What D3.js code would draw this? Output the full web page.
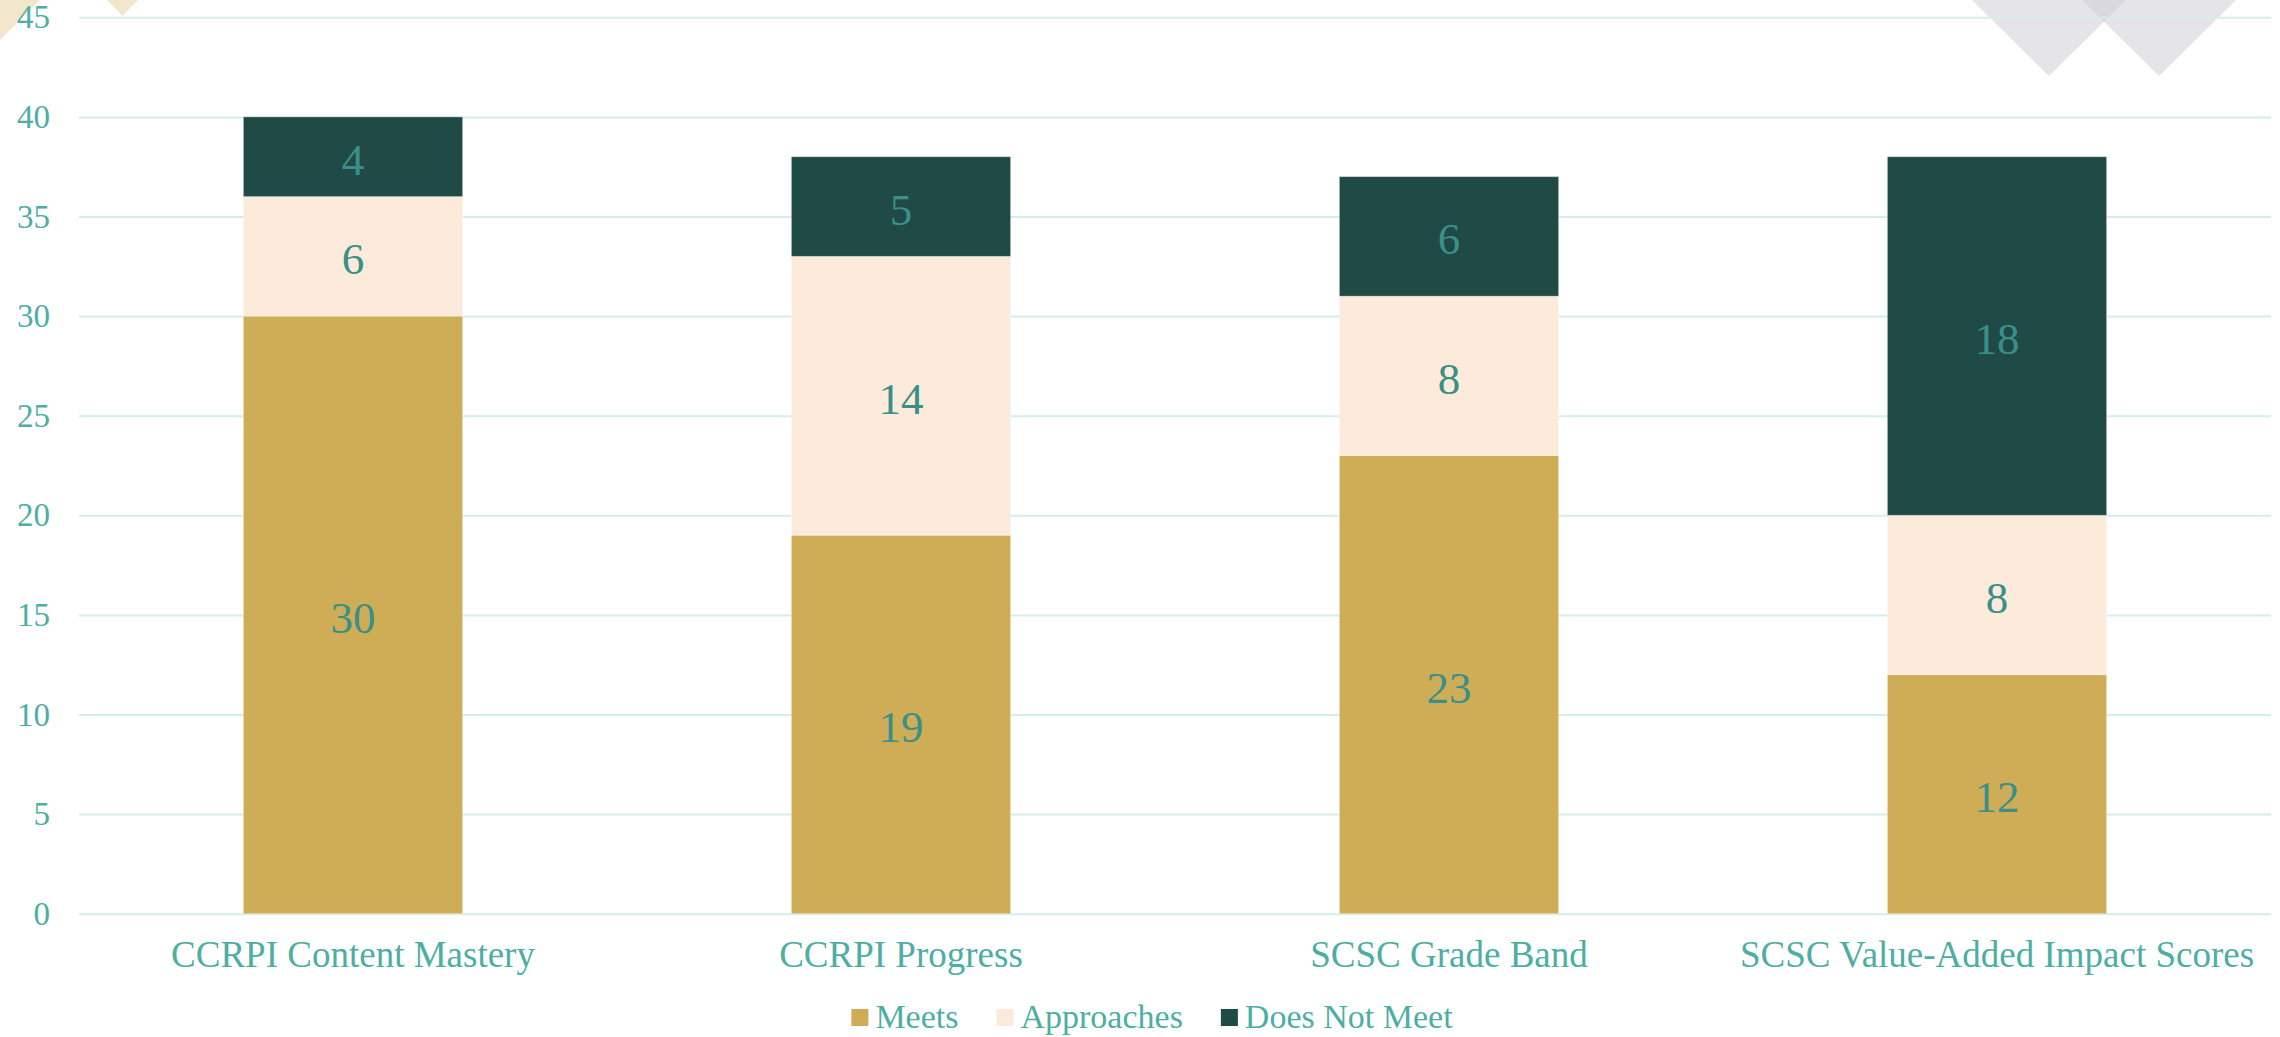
<!DOCTYPE html>
<html>
<head>
    <meta charset="utf-8">
    <title>Stacked bars</title>
    <script src="https://cdn.jsdelivr.net/npm/d3@7"></script>
    <style>
        body { margin: 0; background: #fff; }
        svg { display: block; font-family: Georgia, "Liberation Serif", serif; }
    </style>
</head>
<body>
    <div id="chart"></div>
    <script>
        // data
        const categories = ["CCRPI Content Mastery", "CCRPI Progress", "SCSC Grade Band", "SCSC Value-Added Impact Scores"];
        const meets = [30, 19, 23, 12];
        const approaches = [6, 14, 8, 8];
        const doesNotMeet = [4, 5, 6, 18];
        const seriesNames = ["Meets", "Approaches", "Does Not Meet"];
        const seriesColors = ["#cfad56", "#fcebda", "#1f4a45"];
        const yTicks = [0, 5, 10, 15, 20, 25, 30, 35, 40, 45];

        const width = 2280;
        const height = 1037;
        const plotLeft = 79, plotRight = 2271, plotTop = 17.3, plotBottom = 913.7;

        const rows = categories.map((c, i) => ({
            category: c,
            "Meets": meets[i],
            "Approaches": approaches[i],
            "Does Not Meet": doesNotMeet[i]
        }));
        const stacked = d3.stack().keys(seriesNames)(rows);

        const x = d3.scaleBand()
            .domain(categories)
            .range([plotLeft, plotRight])
            .paddingInner(0.6)
            .paddingOuter(0.3);

        const y = d3.scaleLinear()
            .domain([0, 45])
            .range([plotBottom, plotTop]);

        const color = d3.scaleOrdinal().domain(seriesNames).range(seriesColors);

        const svg = d3.select("#chart")
            .append("svg")
            .attr("width", width)
            .attr("height", height);

        // decorative corner triangles
        const tri = (x0, w, h) => `M${x0},0L${x0 + w},0L${x0 + w / 2},${h}Z`;
        svg.append("path").attr("d", "M0,0L40,0L0,40Z").attr("fill", "#f2e7cd");
        svg.append("path").attr("d", tri(107, 31, 16)).attr("fill", "#f2e7cd");
        svg.append("path").attr("d", tri(1972, 154, 76)).attr("fill", "rgb(203,203,211)").attr("opacity", 0.5);
        svg.append("path").attr("d", tri(2082, 154, 76)).attr("fill", "rgb(203,203,211)").attr("opacity", 0.5);

        // grid lines + y labels
        const yAxis = d3.axisLeft(y)
            .tickValues(yTicks)
            .tickSize(-(plotRight - plotLeft))
            .tickPadding(29);

        const gy = svg.append("g")
            .attr("transform", "translate(" + plotLeft + ",0)")
            .call(yAxis);
        gy.select(".domain").remove();
        gy.selectAll(".tick line")
            .attr("stroke", "#d6eeeb")
            .attr("stroke-width", 2);
        gy.selectAll(".tick text")
            .attr("fill", "#4daea2")
            .attr("font-size", "33px")
            .attr("font-family", "Georgia, 'Liberation Serif', serif");

        // bars
        const layers = svg.selectAll(".layer")
            .data(stacked)
            .enter()
            .append("g")
            .attr("class", "layer")
            .attr("fill", d => color(d.key));

        layers.selectAll("rect")
            .data(d => d)
            .enter()
            .append("rect")
            .attr("x", d => x(d.data.category))
            .attr("y", d => y(d[1]))
            .attr("width", x.bandwidth())
            .attr("height", d => y(d[0]) - y(d[1]))
            .attr("stroke", "rgba(255,255,255,0.3)")
            .attr("stroke-width", 1);

        // value labels
        layers.selectAll("text")
            .data(d => d)
            .enter()
            .append("text")
            .attr("x", d => x(d.data.category) + x.bandwidth() / 2)
            .attr("y", d => (y(d[0]) + y(d[1])) / 2 + 3)
            .attr("text-anchor", "middle")
            .attr("dominant-baseline", "central")
            .attr("fill", "#3a9088")
            .attr("font-size", "45px")
            .text(d => d[1] - d[0]);

        // category labels
        const xAxis = d3.axisBottom(x).tickSize(0);
        const gx = svg.append("g")
            .attr("transform", "translate(0," + plotBottom + ")")
            .call(xAxis);
        gx.select(".domain").remove();
        gx.selectAll(".tick text")
            .attr("y", 53)
            .attr("dy", 0)
            .attr("fill", "#4daea2")
            .attr("font-size", "37px")
            .attr("font-family", "Georgia, 'Liberation Serif', serif");

        // legend
        const legend = svg.append("g");
        const items = legend.selectAll("g")
            .data(seriesNames)
            .enter()
            .append("g");
        items.append("rect")
            .attr("width", 17)
            .attr("height", 17)
            .attr("y", -19)
            .attr("fill", d => color(d));
        items.append("text")
            .attr("x", 24)
            .attr("fill", "#4daea2")
            .attr("font-size", "34px")
            .text(d => d);

        let pos = 0;
        items.each(function () {
            const w = d3.select(this).select("text").node().getComputedTextLength();
            d3.select(this).attr("transform", "translate(" + pos + ",0)");
            pos += 24 + w + 38;
        });
        const total = pos - 38;
        legend.attr("transform", "translate(" + (1152 - total / 2) + ",1028)");
    </script>
</body>
</html>
